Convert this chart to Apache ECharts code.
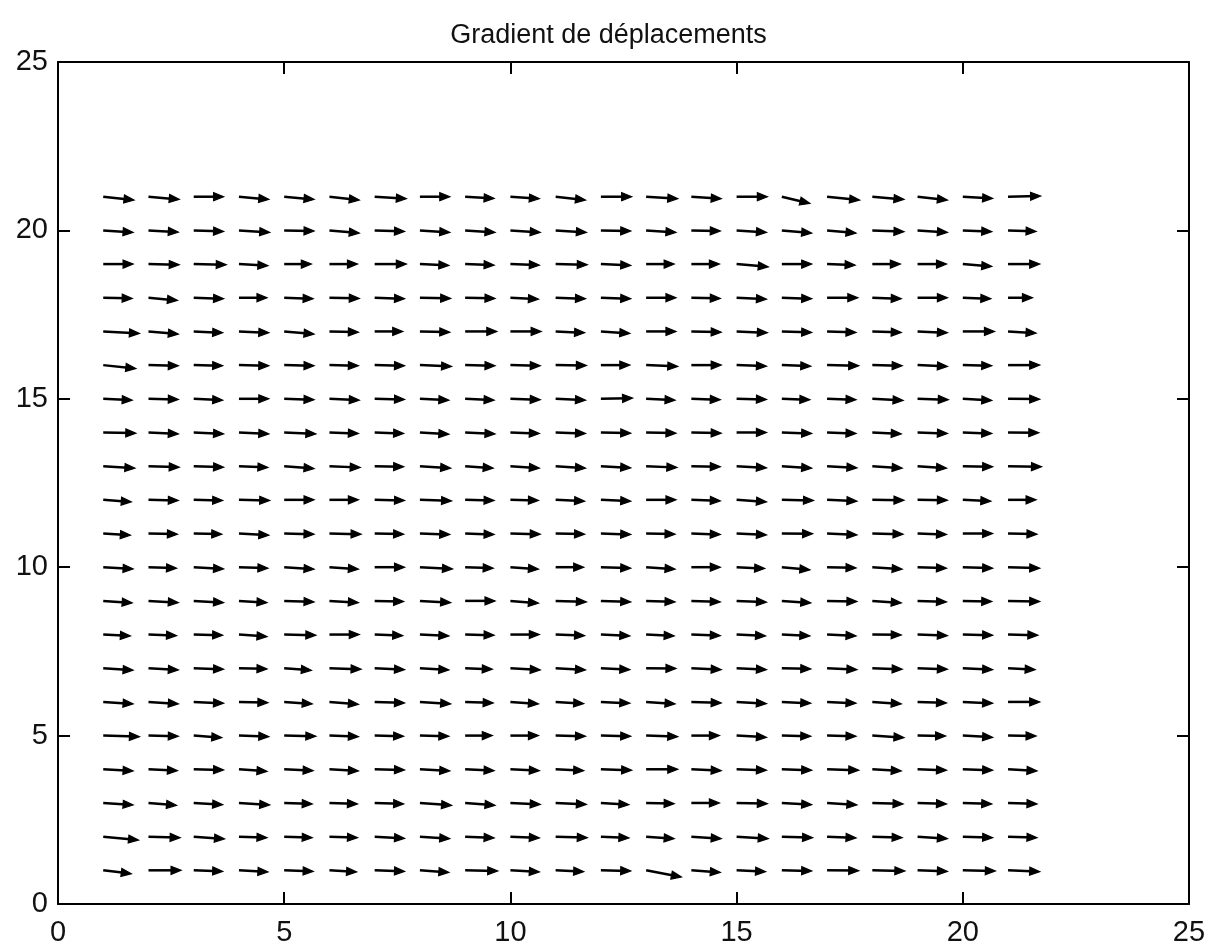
<!DOCTYPE html>
<html>
<head>
<meta charset="utf-8">
<script src="https://cdn.jsdelivr.net/npm/echarts@6/dist/echarts.min.js"></script>
<style>
html,body{margin:0;padding:0;background:#fff;}
#chart{width:1217px;height:951px;}
</style>
</head>
<body>
<div id="chart"></div>
<script>
// Grid positions of the arrows
const gridX = [1,2,3,4,5,6,7,8,9,10,11,12,13,14,15,16,17,18,19,20,21];
const gridY = [1,2,3,4,5,6,7,8,9,10,11,12,13,14,15,16,17,18,19,20,21];
const xTicks = [0,5,10,15,20,25];
const yTicks = [0,5,10,15,20,25];

// Horizontal displacement component U, one row per y (y = 1 .. 21), columns x = 1 .. 21
const U = [
  [0.62,0.72,0.64,0.64,0.64,0.60,0.66,0.64,0.72,0.64,0.62,0.66,0.78,0.64,0.64,0.66,0.70,0.72,0.66,0.72,0.70],
  [0.78,0.70,0.68,0.62,0.62,0.62,0.66,0.66,0.64,0.64,0.70,0.62,0.62,0.66,0.70,0.68,0.64,0.66,0.66,0.66,0.64],
  [0.66,0.62,0.64,0.68,0.62,0.62,0.64,0.70,0.66,0.66,0.68,0.62,0.62,0.62,0.68,0.66,0.66,0.68,0.64,0.64,0.64],
  [0.66,0.64,0.66,0.62,0.64,0.64,0.66,0.66,0.64,0.64,0.62,0.68,0.70,0.66,0.66,0.66,0.70,0.64,0.64,0.66,0.64],
  [0.80,0.66,0.62,0.66,0.70,0.64,0.64,0.64,0.60,0.62,0.66,0.66,0.70,0.62,0.66,0.64,0.64,0.70,0.62,0.66,0.62],
  [0.66,0.66,0.66,0.64,0.62,0.64,0.66,0.68,0.62,0.62,0.62,0.64,0.64,0.66,0.66,0.64,0.64,0.64,0.64,0.66,0.70],
  [0.66,0.66,0.66,0.62,0.60,0.70,0.66,0.64,0.60,0.66,0.66,0.64,0.66,0.66,0.66,0.64,0.66,0.66,0.66,0.66,0.60],
  [0.60,0.62,0.64,0.62,0.70,0.66,0.62,0.64,0.64,0.64,0.64,0.64,0.62,0.64,0.64,0.62,0.64,0.64,0.66,0.66,0.66],
  [0.64,0.66,0.66,0.62,0.66,0.64,0.64,0.68,0.66,0.62,0.68,0.66,0.64,0.64,0.66,0.64,0.66,0.64,0.64,0.64,0.70],
  [0.66,0.62,0.66,0.64,0.66,0.64,0.66,0.72,0.62,0.62,0.62,0.66,0.64,0.64,0.62,0.62,0.64,0.66,0.64,0.66,0.70],
  [0.60,0.64,0.62,0.66,0.66,0.70,0.64,0.66,0.64,0.66,0.64,0.66,0.64,0.64,0.66,0.68,0.66,0.68,0.64,0.66,0.64],
  [0.62,0.66,0.64,0.68,0.66,0.64,0.66,0.70,0.64,0.62,0.64,0.66,0.66,0.64,0.66,0.70,0.66,0.70,0.66,0.62,0.62],
  [0.70,0.68,0.66,0.64,0.66,0.68,0.64,0.68,0.62,0.64,0.66,0.66,0.68,0.64,0.66,0.66,0.66,0.66,0.64,0.66,0.74],
  [0.72,0.66,0.66,0.66,0.70,0.64,0.64,0.64,0.66,0.64,0.66,0.66,0.66,0.66,0.66,0.66,0.64,0.64,0.66,0.64,0.68],
  [0.64,0.66,0.64,0.66,0.66,0.66,0.66,0.64,0.64,0.66,0.66,0.70,0.64,0.64,0.66,0.62,0.64,0.68,0.68,0.64,0.70],
  [0.72,0.66,0.64,0.66,0.66,0.64,0.66,0.70,0.66,0.66,0.68,0.64,0.70,0.66,0.66,0.64,0.70,0.66,0.66,0.64,0.70],
  [0.80,0.66,0.64,0.66,0.66,0.64,0.62,0.66,0.70,0.68,0.64,0.64,0.66,0.66,0.68,0.66,0.64,0.64,0.66,0.70,0.62],
  [0.64,0.64,0.66,0.62,0.64,0.66,0.66,0.68,0.66,0.62,0.66,0.66,0.66,0.64,0.66,0.66,0.68,0.64,0.66,0.62,0.54],
  [0.66,0.68,0.72,0.64,0.60,0.62,0.70,0.64,0.64,0.64,0.70,0.66,0.62,0.62,0.70,0.66,0.62,0.62,0.64,0.64,0.70],
  [0.66,0.66,0.66,0.68,0.66,0.66,0.66,0.66,0.66,0.66,0.68,0.66,0.66,0.64,0.66,0.66,0.64,0.70,0.66,0.64,0.62],
  [0.68,0.68,0.66,0.66,0.66,0.66,0.70,0.66,0.64,0.64,0.66,0.68,0.70,0.66,0.68,0.62,0.72,0.70,0.66,0.66,0.72]
];

// Vertical displacement component V, one row per y (y = 1 .. 21), columns x = 1 .. 21
const V = [
  [-0.10,0.00,-0.03,-0.05,-0.03,-0.05,-0.03,-0.06,-0.02,-0.05,-0.04,-0.02,-0.20,-0.06,-0.04,-0.02,-0.01,-0.02,-0.03,-0.02,-0.04],
  [-0.10,-0.03,-0.07,-0.03,-0.03,-0.03,-0.05,-0.06,-0.04,-0.04,-0.03,-0.04,-0.06,-0.06,-0.06,-0.03,-0.04,-0.03,-0.06,-0.03,-0.03],
  [-0.06,-0.07,-0.05,-0.06,-0.03,-0.03,-0.03,-0.07,-0.07,-0.04,-0.04,-0.05,-0.02,0.00,-0.02,-0.05,-0.06,-0.03,-0.03,-0.03,-0.03],
  [-0.05,-0.04,-0.02,-0.06,-0.04,-0.05,-0.02,-0.05,-0.04,-0.04,-0.04,-0.03,0.00,-0.04,-0.03,-0.03,-0.03,-0.05,-0.03,-0.03,-0.05],
  [-0.03,-0.02,-0.06,-0.03,-0.02,-0.03,-0.02,-0.02,0.00,0.00,-0.02,-0.02,-0.03,0.00,-0.05,-0.02,-0.02,-0.06,-0.01,-0.05,-0.01],
  [-0.06,-0.06,-0.04,-0.02,-0.06,-0.07,-0.03,-0.06,-0.03,-0.06,-0.05,-0.04,-0.06,-0.03,-0.05,-0.04,-0.04,-0.06,-0.03,-0.04,0.00],
  [-0.06,-0.05,-0.03,-0.02,-0.06,-0.03,-0.04,-0.05,-0.03,-0.05,-0.05,-0.04,-0.01,-0.04,-0.04,-0.02,-0.04,-0.03,-0.03,-0.04,-0.04],
  [-0.04,-0.03,-0.02,-0.06,-0.02,0.00,-0.03,-0.04,-0.02,0.00,-0.03,-0.04,-0.04,-0.03,-0.04,-0.04,-0.04,-0.01,-0.03,-0.02,-0.02],
  [-0.06,-0.05,-0.05,-0.05,-0.03,-0.05,-0.02,-0.05,0.00,-0.07,-0.03,-0.03,-0.03,-0.03,-0.04,-0.06,-0.02,-0.06,-0.03,-0.02,-0.02],
  [-0.05,-0.03,-0.05,-0.03,-0.06,-0.06,0.00,-0.05,-0.03,-0.06,0.00,-0.03,-0.06,0.00,-0.04,-0.08,-0.02,-0.06,-0.03,-0.03,-0.03],
  [-0.05,-0.02,-0.02,-0.05,-0.02,-0.02,-0.02,-0.03,-0.03,-0.02,-0.02,-0.03,-0.02,-0.03,-0.04,-0.01,-0.04,-0.02,-0.03,0.00,-0.02],
  [-0.06,-0.02,-0.02,-0.02,0.00,0.00,-0.02,-0.03,-0.02,-0.02,-0.04,-0.04,0.00,-0.03,-0.06,-0.02,-0.04,-0.01,-0.01,-0.04,0.00],
  [-0.06,-0.03,-0.03,-0.04,-0.07,-0.04,-0.02,-0.06,-0.06,-0.06,-0.06,-0.05,-0.04,-0.02,-0.05,-0.06,-0.05,-0.06,-0.06,-0.02,-0.02],
  [-0.02,-0.04,-0.04,-0.04,-0.04,-0.03,-0.03,-0.05,-0.04,-0.03,-0.03,-0.02,-0.02,-0.02,0.00,-0.03,-0.03,-0.04,-0.03,-0.03,-0.01],
  [-0.04,-0.02,-0.04,0.00,-0.03,-0.04,-0.02,-0.04,-0.04,-0.03,-0.04,0.02,-0.04,-0.03,-0.02,-0.03,-0.03,-0.05,-0.03,-0.05,-0.01],
  [-0.10,-0.02,-0.02,-0.02,-0.02,-0.02,-0.02,-0.04,-0.02,-0.02,-0.01,0.00,-0.04,0.00,-0.03,-0.03,-0.02,-0.02,-0.04,-0.02,0.00],
  [-0.06,-0.08,-0.04,-0.04,-0.08,-0.02,0.00,-0.02,0.00,0.00,-0.04,-0.06,0.00,-0.02,-0.04,-0.03,-0.03,-0.03,-0.04,0.00,-0.05],
  [-0.02,-0.08,-0.03,0.00,-0.03,-0.02,-0.03,-0.02,-0.02,-0.04,-0.03,-0.03,0.00,-0.02,-0.04,-0.03,0.00,-0.03,0.00,-0.03,0.00],
  [0.00,-0.02,-0.02,-0.05,0.00,0.00,0.00,-0.04,-0.03,-0.03,-0.02,-0.04,0.00,0.00,-0.08,0.00,-0.03,0.00,0.00,-0.07,0.00],
  [-0.06,-0.05,-0.03,-0.06,-0.02,-0.08,-0.03,-0.06,-0.06,-0.06,-0.06,-0.02,-0.06,-0.02,-0.06,-0.08,-0.08,-0.04,-0.06,-0.04,-0.03],
  [-0.10,-0.08,0.00,-0.08,-0.08,-0.10,-0.06,0.00,-0.05,-0.06,-0.10,0.00,-0.06,-0.06,0.00,-0.20,-0.10,-0.08,-0.10,-0.05,0.02]
];

const titleText = 'Gradient de déplacements';

const data = [];
gridY.forEach((y, j) => {
  gridX.forEach((x, i) => {
    data.push([x, y, U[j][i], V[j][i]]);
  });
});

const FONT = '"Liberation Sans", Arial, Helvetica, sans-serif';
const axisCommon = {
  min: 0, max: 25, interval: 5,
  axisLine: { show: true, onZero: false, lineStyle: { color: '#000', width: 2 } },
  axisTick: { show: true, inside: true, length: 12, lineStyle: { color: '#000', width: 2 } },
  splitLine: { show: false }
};

const chart = echarts.init(document.getElementById('chart'), null, { renderer: 'canvas' });
chart.setOption({
  backgroundColor: '#fff',
  animation: false,
  title: {
    text: titleText,
    left: 'center',
    top: 17,
    textStyle: { fontFamily: FONT, fontSize: 27, fontWeight: 'normal', color: '#111' }
  },
  grid: { left: 58, top: 62, width: 1131, height: 842, containLabel: false },
  xAxis: [
    Object.assign({}, axisCommon, {
      type: 'value', position: 'bottom',
      axisLabel: { show: true, margin: 14, color: '#111', fontFamily: FONT, fontSize: 29,
        formatter: v => xTicks.includes(v) ? String(v) : '' }
    }),
    Object.assign({}, axisCommon, {
      type: 'value', position: 'top', axisLabel: { show: false }
    })
  ],
  yAxis: [
    Object.assign({}, axisCommon, {
      type: 'value', position: 'left',
      axisLabel: { show: true, margin: 10, color: '#111', fontFamily: FONT, fontSize: 29,
        formatter: v => yTicks.includes(v) ? String(v) : '' }
    }),
    Object.assign({}, axisCommon, {
      type: 'value', position: 'right', axisLabel: { show: false }
    })
  ],
  series: [{
    type: 'custom',
    xAxisIndex: 0,
    yAxisIndex: 0,
    data: data,
    renderItem: function (params, api) {
      const x = api.value(0), y = api.value(1), u = api.value(2), v = api.value(3);
      const p0 = api.coord([x, y]);
      const p1 = api.coord([x + u, y + v]);
      const dx = p1[0] - p0[0], dy = p1[1] - p0[1];
      const L = Math.sqrt(dx * dx + dy * dy) || 1;
      const ux = dx / L, uy = dy / L;
      const hl = 10, hw = 4;
      const bx = p1[0] - ux * hl, by = p1[1] - uy * hl;
      const left = [bx - uy * hw, by + ux * hw];
      const right = [bx + uy * hw, by - ux * hw];
      return {
        type: 'group',
        children: [
          { type: 'line', shape: { x1: p0[0], y1: p0[1], x2: p1[0] - ux * 3, y2: p1[1] - uy * 3 },
            style: { stroke: '#000', lineWidth: 2.5 } },
          { type: 'polygon', shape: { points: [left, p1, right] },
            style: { fill: '#000', stroke: '#000', lineWidth: 1.2 } }
        ]
      };
    }
  }]
});
</script>
</body>
</html>
